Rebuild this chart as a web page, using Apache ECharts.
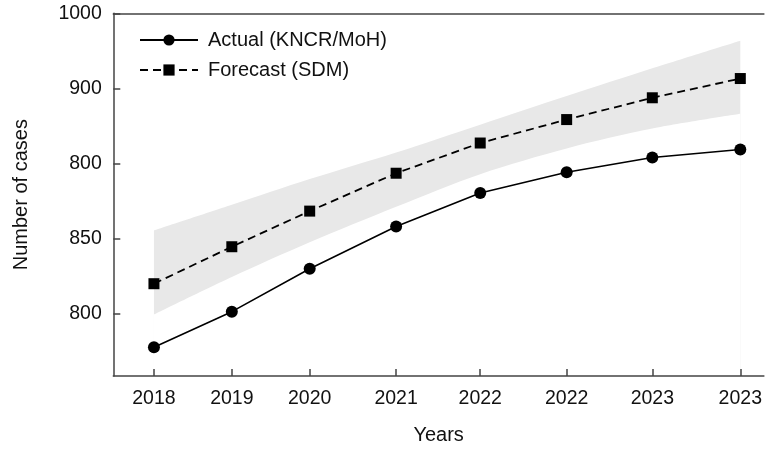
<!DOCTYPE html>
<html>
<head>
<meta charset="utf-8">
<script src="https://cdn.jsdelivr.net/npm/echarts@6/dist/echarts.min.js"></script>
<style>
  html, body { margin: 0; padding: 0; background: #fff; }
  #chart { width: 765px; height: 450px; }
</style>
</head>
<body>
<div id="chart"></div>
<script>
// Time of each observation, in years after the first one
const tPoints = [0, 1.0, 2.0, 3.11, 4.19, 5.30, 6.40, 7.53];
// Year labels printed under each observation
const xTickLabels = ['2018', '2019', '2020', '2021', '2022', '2022', '2023', '2023'];

// Reported cases (KNCR/MoH)
const actual = [777.8, 801.5, 830.1, 858.1, 880.5, 894.3, 904.1, 909.4];
// SDM forecast
const forecast = [820.1, 844.7, 868.4, 893.6, 913.7, 929.3, 943.8, 956.6];
// Forecast uncertainty band
const bandLower = [799.5, 824.5, 847.6, 871.3, 893.0, 910.1, 923.3, 933.1];
const bandUpper = [855.5, 872.6, 889.7, 907.4, 925.9, 944.9, 963.4, 981.8];

// Y-axis tick positions and the labels printed at them
const yTickValues = [800, 850, 900, 950, 1000];
const yTickLabels = ['800', '850', '800', '900', '1000'];

const FONT = 'Liberation Sans, Arial, Helvetica, sans-serif';
const INK = '#111';
const AXIS = '#444';

const pairs = (ys) => tPoints.map((t, i) => [t, ys[i]]);
const labelAt = (values, labels, v) => {
  let best = 0;
  values.forEach((x, i) => { if (Math.abs(x - v) < Math.abs(values[best] - v)) best = i; });
  return labels[best];
};

const X_MIN = -0.522, X_MAX = 7.833;
const Y_MIN = 758.7, Y_MAX = 1000;

const chart = echarts.init(document.getElementById('chart'), null, { renderer: 'canvas' });

chart.setOption({
  animation: false,
  backgroundColor: '#fff',
  grid: { left: 113.3, top: 13.3, bottom: 70, right: 0 },
  legend: {
    data: ['Actual (KNCR/MoH)', 'Forecast (SDM)'],
    orient: 'vertical',
    left: 134, top: 25,
    itemWidth: 58, itemHeight: 14, itemGap: 10,
    textStyle: { fontFamily: FONT, fontSize: 20, color: INK, padding: [0, 0, 0, 5] }
  },
  xAxis: [
    {
      type: 'value',
      min: X_MIN, max: X_MAX,
      z: 10,
      name: 'Years',
      nameLocation: 'middle',
      nameGap: 49,
      nameTextStyle: { fontFamily: FONT, fontSize: 20, color: INK },
      axisLine: { show: true, onZero: false, lineStyle: { color: AXIS, width: 1.5 } },
      axisTick: { show: true, inside: true, length: 7, customValues: tPoints, lineStyle: { color: AXIS, width: 1.5 } },
      axisLabel: {
        customValues: tPoints,
        margin: 13,
        fontFamily: FONT, fontSize: 19.5, color: INK,
        formatter: (v) => labelAt(tPoints, xTickLabels, v)
      },
      splitLine: { show: false }
    },
    {
      // top frame line
      type: 'value',
      position: 'top',
      min: X_MIN, max: X_MAX,
      z: 10,
      axisLine: { show: true, onZero: false, lineStyle: { color: AXIS, width: 1.5 } },
      axisTick: { show: false },
      axisLabel: { show: false },
      splitLine: { show: false }
    }
  ],
  yAxis: {
    type: 'value',
    min: Y_MIN, max: Y_MAX,
    z: 10,
    name: 'Number of cases',
    nameLocation: 'middle',
    nameGap: 82,
    nameRotate: 90,
    nameTextStyle: { fontFamily: FONT, fontSize: 20, color: INK },
    axisLine: { show: true, onZero: false, lineStyle: { color: AXIS, width: 1.5 } },
    axisTick: { show: true, inside: true, length: 7, customValues: yTickValues, lineStyle: { color: AXIS, width: 1.5 } },
    axisLabel: {
      customValues: yTickValues,
      margin: 11.5,
      fontFamily: FONT, fontSize: 19.5, color: INK,
      formatter: (v) => labelAt(yTickValues, yTickLabels, v)
    },
    splitLine: { show: false }
  },
  series: [
    {
      // upper edge of the band, shaded down to the axis
      name: 'band-upper',
      type: 'line',
      data: pairs(bandUpper),
      smooth: 0.3,
      symbol: 'none',
      lineStyle: { width: 0, opacity: 0 },
      areaStyle: { color: '#e8e8e8', opacity: 1, origin: 'start' },
      silent: true,
      z: 1
    },
    {
      // lower edge of the band, cleared below with the background colour
      name: 'band-lower',
      type: 'line',
      data: pairs(bandLower),
      smooth: 0.3,
      symbol: 'none',
      lineStyle: { width: 0, opacity: 0 },
      areaStyle: { color: '#ffffff', opacity: 1, origin: 'start' },
      silent: true,
      z: 1.5
    },
    {
      name: 'Actual (KNCR/MoH)',
      type: 'line',
      data: pairs(actual),
      symbol: 'circle',
      symbolSize: 12,
      color: '#000',
      lineStyle: { color: '#000', width: 1.6 },
      itemStyle: { color: '#000' },
      z: 3
    },
    {
      name: 'Forecast (SDM)',
      type: 'line',
      data: pairs(forecast),
      symbol: 'rect',
      symbolSize: 11,
      color: '#000',
      lineStyle: { color: '#000', width: 1.8, type: [8, 5] },
      itemStyle: { color: '#000' },
      z: 3
    }
  ]
});
</script>
</body>
</html>
